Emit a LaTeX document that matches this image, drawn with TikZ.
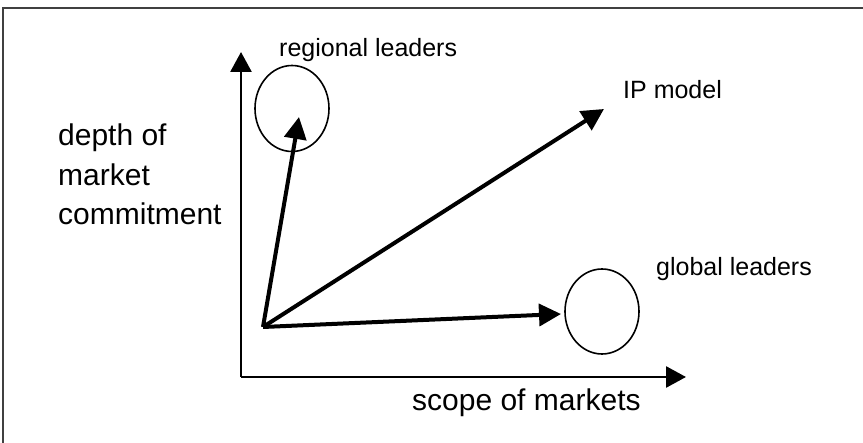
\documentclass[tikz,border=0pt]{standalone}
\usepackage{fontspec}
\setmainfont{Liberation Sans}
\usetikzlibrary{arrows.meta,shapes.geometric}
\begin{document}
\begin{tikzpicture}[x=1pt,y=-1pt,
  axis/.style={line width=2.8pt,-{Triangle[length=20pt,width=21pt]}},
  vec/.style={line width=4pt,-{Triangle[length=22pt,width=22pt]}},
  zone/.style={draw,line width=1.6pt,ellipse,minimum width=74pt,minimum height=86pt,inner sep=0pt},
  bigtxt/.style={inner sep=0pt,anchor=base west,font=\fontsize{30}{39.5}\selectfont,align=left},
  smalltxt/.style={inner sep=0pt,anchor=base west,font=\fontsize{25}{30}\selectfont}]
\useasboundingbox (0,0) rectangle (863,443);
% frame
\draw[line width=2pt,black!75] (863,8) -- (3,8) -- (3,443);
% axes
\coordinate (O) at (241,377);
\coordinate (ytip) at (241,52);
\coordinate (xtip) at (686,377);
\draw[axis] (O) -- (ytip);
\draw[axis] (O) -- (xtip);
% zones
\node[zone] (reg) at (292,108.5) {};
\node[zone,minimum height=85pt] (glob) at (602,311.5) {};
% vectors
\coordinate (start) at (263,327);
\coordinate (regtip) at (299,117);
\coordinate (iptip) at (604,109);
\coordinate (globtip) at (561,314);
\draw[vec] (start) -- (regtip);
\draw[vec] (start) -- (iptip);
\draw[vec] (start) -- (globtip);
% labels (a multi-line node sits on the baseline of its last line)
\node[bigtxt] (ylab) at (58,225) {depth of\\market\\commitment};
\node[bigtxt] (xlab) at (412,411) {scope of markets};
\node[smalltxt] (reglab) at (279,57) {regional leaders};
\node[smalltxt] (iplab) at (623,99) {IP model};
\node[smalltxt] (globlab) at (656,276) {global leaders};
\end{tikzpicture}
\end{document}
